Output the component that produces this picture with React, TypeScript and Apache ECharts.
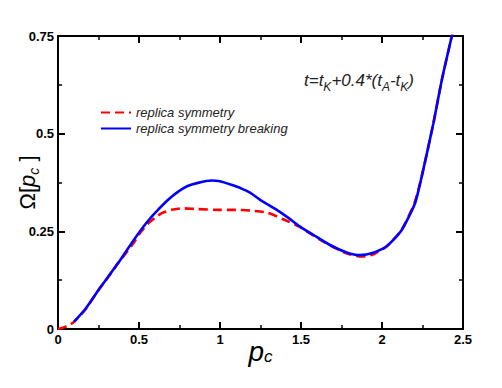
import React, { useEffect, useRef } from "react";
import * as echarts from "echarts";

const rsX = [0, 0.035, 0.07, 0.1, 0.17, 0.25, 0.31, 0.37, 0.43, 0.47, 0.5, 0.556, 0.6, 0.638, 0.7, 0.77, 0.86, 0.99, 1.1, 1.19, 1.29, 1.39, 1.49, 1.58, 1.68, 1.78, 1.86, 1.9, 1.95, 2.03, 2.12, 2.2, 2.245, 2.317, 2.369, 2.43, 2.47];
const rsY = [0, 0.004, 0.01, 0.019, 0.05, 0.1, 0.133, 0.168, 0.2, 0.222, 0.242, 0.27, 0.285, 0.296, 0.305, 0.309, 0.307, 0.305, 0.305, 0.303, 0.298, 0.281, 0.262, 0.238, 0.214, 0.194, 0.186, 0.186, 0.192, 0.212, 0.253, 0.322, 0.39, 0.526, 0.637, 0.748, 0.82];

const rsbX = [0.1, 0.17, 0.25, 0.31, 0.37, 0.43, 0.504, 0.56, 0.617, 0.68, 0.74, 0.8, 0.864, 0.946, 1.0, 1.07, 1.13, 1.185, 1.25, 1.35, 1.42, 1.494, 1.58, 1.679, 1.782, 1.864, 1.946, 2.029, 2.121, 2.204, 2.245, 2.317, 2.369, 2.43, 2.47];
const rsbY = [0.019, 0.052, 0.1, 0.134, 0.168, 0.205, 0.249, 0.279, 0.305, 0.331, 0.351, 0.366, 0.374, 0.38, 0.378, 0.369, 0.36, 0.349, 0.33, 0.305, 0.285, 0.262, 0.24, 0.215, 0.196, 0.189, 0.195, 0.212, 0.253, 0.322, 0.39, 0.526, 0.637, 0.748, 0.82];

const xTicks = ["0", "0.5", "1", "1.5", "2", "2.5"];
const yTicks = ["0", "0.25", "0.5", "0.75"];

const seriesNames = ["replica symmetry", "replica symmetry breaking"];

const FONT = "'Liberation Sans', Arial, sans-serif";

export default function App() {
  const ref = useRef<HTMLDivElement>(null);
  useEffect(() => {
    if (!ref.current) return;
    const chart = echarts.init(ref.current, null, { renderer: "svg" });
    const axisCommon = {
      type: "value" as const,
      axisLine: { show: true, onZero: false, lineStyle: { color: "#000", width: 2 } },
      axisTick: { show: true, inside: true, length: 7, lineStyle: { color: "#000", width: 2 } },
      minorTick: { show: true, splitNumber: 2, length: 4, lineStyle: { color: "#000", width: 1.5 } },
      splitLine: { show: false },
      minorSplitLine: { show: false },
    };
    const xFmt = (v: number) => xTicks.find((t) => Math.abs(parseFloat(t) - v) < 1e-6) ?? "";
    const yFmt = (v: number) => yTicks.find((t) => Math.abs(parseFloat(t) - v) < 1e-6) ?? "";
    chart.setOption({
      animation: false,
      backgroundColor: "#fff",
      textStyle: { fontFamily: FONT },
      grid: { left: 58, top: 36, right: 39, bottom: 59, containLabel: false, outerBoundsMode: "none" },
      legend: {
        show: true,
        data: seriesNames,
        orient: "vertical",
        left: 95,
        top: 101,
        itemWidth: 30,
        itemHeight: 14,
        itemGap: 3,
        itemStyle: { opacity: 0 },
        textStyle: { fontFamily: FONT, fontStyle: "italic", fontSize: 13, color: "#222" },
      },
      xAxis: [
        {
          ...axisCommon,
          position: "bottom",
          min: 0,
          max: 2.5,
          interval: 0.5,
          axisLabel: { show: true, formatter: xFmt, fontFamily: FONT, fontWeight: "bold", fontSize: 13, color: "#000", margin: 4 },
          name: "{p|p}{s|c}",
          nameLocation: "middle",
          nameGap: 8,
          nameMoveOverlap: false,
          nameTextStyle: {
            rich: {
              p: { fontFamily: FONT, fontStyle: "italic", fontSize: 28, color: "#000", lineHeight: 28, verticalAlign: "middle" },
              s: { fontFamily: FONT, fontStyle: "italic", fontSize: 17, color: "#000", lineHeight: 17, verticalAlign: "bottom" },
            },
          },
        },
        {
          ...axisCommon,
          position: "top",
          min: 0,
          max: 2.5,
          interval: 0.5,
          axisLabel: { show: false },
        },
      ],
      yAxis: [
        {
          ...axisCommon,
          position: "left",
          min: 0,
          max: 0.75,
          interval: 0.25,
          axisLabel: { show: true, formatter: yFmt, fontFamily: FONT, fontWeight: "bold", fontSize: 13, color: "#000", margin: 4 },
          name: "{o|Ω[}{p|p}{s|c}{o| ]}",
          nameLocation: "middle",
          nameRotate: 90,
          nameGap: 17,
          nameMoveOverlap: false,
          nameTextStyle: {
            rich: {
              o: { fontFamily: FONT, fontSize: 22, color: "#000", lineHeight: 28, verticalAlign: "middle" },
              p: { fontFamily: FONT, fontStyle: "italic", fontSize: 22, color: "#000", lineHeight: 28, verticalAlign: "middle" },
              s: { fontFamily: FONT, fontStyle: "italic", fontSize: 14, color: "#000", lineHeight: 14, verticalAlign: "bottom" },
            },
          },
        },
        {
          ...axisCommon,
          position: "right",
          min: 0,
          max: 0.75,
          interval: 0.25,
          axisLabel: { show: false },
        },
      ],
      graphic: [
        {
          type: "text",
          left: 304,
          top: 72,
          style: {
            text: "{m|t=t}{s|K}{m|+0.4*(t}{s|A}{m|-t}{s|K}{m|)}",
            rich: {
              m: { fontFamily: FONT, fontStyle: "italic", fontSize: 17, fill: "#222", lineHeight: 24, verticalAlign: "middle" },
              s: { fontFamily: FONT, fontStyle: "italic", fontSize: 12, fill: "#222", lineHeight: 12, verticalAlign: "bottom" },
            },
          },
        },
      ],
      series: [
        {
          name: seriesNames[0],
          type: "line",
          data: rsX.map((x, i) => [x, rsY[i]]),
          symbol: "none",
          showSymbol: false,
          smooth: 0.2,
          clip: true,
          lineStyle: { color: "#ff0000", width: 2.6, type: [9, 5] },
          itemStyle: { color: "#ff0000" },
        },
        {
          name: seriesNames[1],
          type: "line",
          data: rsbX.map((x, i) => [x, rsbY[i]]),
          symbol: "none",
          showSymbol: false,
          smooth: 0.2,
          clip: true,
          lineStyle: { color: "#0000ff", width: 2.6 },
          itemStyle: { color: "#0000ff" },
        },
      ],
    });
    return () => chart.dispose();
  }, []);
  return <div ref={ref} style={{ width: 502, height: 388, position: "absolute", left: 0, top: 0 }} />;
}
